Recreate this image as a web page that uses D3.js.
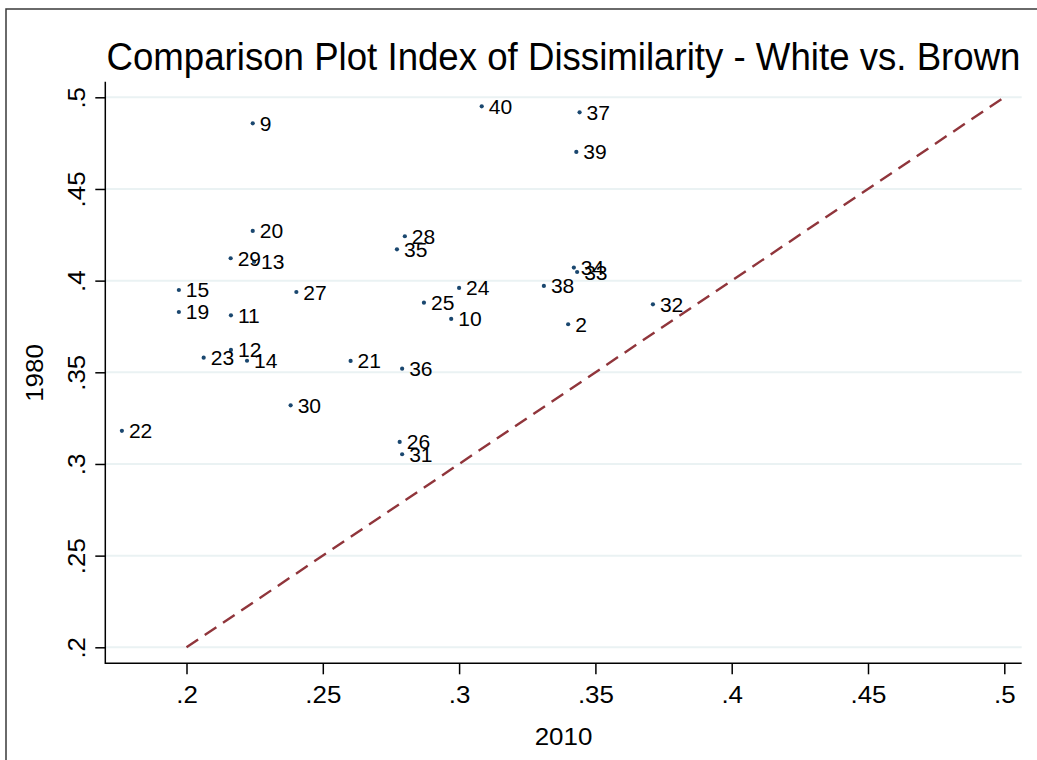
<!DOCTYPE html>
<html>
<head>
<meta charset="utf-8">
<script src="https://cdn.jsdelivr.net/npm/d3@7"></script>
<style>
  body { margin: 0; background: #fff; }
  svg { display: block; font-family: "Liberation Sans", Arial, sans-serif; }
</style>
</head>
<body>
<svg id="chart" width="1037" height="760"></svg>
<script>
// Area ids
const aIds = [2, 9, 10, 11, 12, 13, 14, 15, 19, 20, 21, 22, 23, 24, 25,
  26, 27, 28, 29, 30, 31, 32, 33, 34, 35, 36, 37, 38, 39, 40];
// Index of dissimilarity in 2010 (x)
const a2010 = [0.340, 0.2243, 0.2971, 0.2163, 0.2163, 0.2248, 0.2222, 0.1972, 0.1972, 0.2243, 0.2602, 0.1763, 0.2063, 0.3000, 0.2871,
  0.2782, 0.2403, 0.2801, 0.2162, 0.2382, 0.2791, 0.3711, 0.3433, 0.3421, 0.2772, 0.2791, 0.3442, 0.3311, 0.3430, 0.3083];
// Index of dissimilarity in 1980 (y)
const a1980 = [0.3762, 0.4858, 0.3791, 0.3811, 0.3622, 0.4103, 0.3563, 0.3949, 0.3829, 0.4271, 0.3562, 0.3181, 0.3580, 0.3960, 0.3880,
  0.3120, 0.3938, 0.4242, 0.4122, 0.3320, 0.3053, 0.3871, 0.4047, 0.4071, 0.4171, 0.3520, 0.4918, 0.3971, 0.4702, 0.4951];
const aTicks = [0.2, 0.25, 0.3, 0.35, 0.4, 0.45, 0.5];
const aDiagonal = [0.2, 0.5];

const oSvg = d3.select('#chart');
const jPad = { l: 105.3, r: 1021.7, t: 81.7, b: 663.3 };
// Stata's Helvetica is a touch wider than Liberation Sans
const iStretch = 1.08;

// Scales
const oX = d3.scaleLinear().domain([0.2, 0.5]).range([186.5, 1004.3]);
const oY = d3.scaleLinear().domain([0.2, 0.5]).range([647.3, 97.3]);
const fnFmt = v => d3.format('.2~f')(v).replace(/^0/, '');

// Outer frame (only top and left edges are visible)
oSvg.append('path')
  .attr('d', 'M6,770 L6,9 L1045,9')
  .attr('fill', 'none')
  .attr('stroke', '#3a3a3a')
  .attr('stroke-width', 1.5);

// Title
oSvg.append('text')
  .attr('x', (jPad.l + jPad.r) / 2)
  .attr('y', 70)
  .attr('text-anchor', 'middle')
  .attr('font-size', 38)
  .attr('fill', '#000')
  .attr('textLength', 914)
  .attr('lengthAdjust', 'spacingAndGlyphs')
  .text('Comparison Plot Index of Dissimilarity - White vs. Brown');

// Horizontal grid lines
oSvg.append('g').selectAll('line')
  .data(aTicks)
  .enter()
  .append('line')
  .attr('x1', jPad.l)
  .attr('x2', jPad.r)
  .attr('y1', d => oY(d))
  .attr('y2', d => oY(d))
  .attr('stroke', '#eaf2f3')
  .attr('stroke-width', 2);

// Axes
const oYAxis = oSvg.append('g')
  .attr('transform', `translate(${jPad.l},0)`)
  .call(d3.axisLeft(oY).tickValues(aTicks).tickSize(10).tickFormat(fnFmt));
const oXAxis = oSvg.append('g')
  .attr('transform', `translate(0,${jPad.b})`)
  .call(d3.axisBottom(oX).tickValues(aTicks).tickSize(11).tickFormat(fnFmt));

[oYAxis, oXAxis].forEach((oAxis) => {
  oAxis.attr('font-family', null).attr('font-size', null);
  oAxis.select('.domain').remove();
  oAxis.selectAll('line').attr('stroke', '#000').attr('stroke-width', 1.5);
  oAxis.selectAll('text').attr('font-size', 24).attr('fill', '#000');
});

// Axis lines span the whole plot region
oSvg.append('line')
  .attr('x1', jPad.l).attr('x2', jPad.l)
  .attr('y1', jPad.t).attr('y2', jPad.b + 0.75)
  .attr('stroke', '#000').attr('stroke-width', 1.5);
oSvg.append('line')
  .attr('x1', jPad.l).attr('x2', jPad.r)
  .attr('y1', jPad.b).attr('y2', jPad.b)
  .attr('stroke', '#000').attr('stroke-width', 1.5);

// Y tick labels are rotated like Stata does it
oYAxis.selectAll('.tick text')
  .attr('x', null).attr('dy', null)
  .attr('text-anchor', 'middle')
  .attr('transform', `translate(-20,0) rotate(-90) scale(${iStretch},1)`);
oXAxis.selectAll('.tick text')
  .attr('dy', null)
  .attr('y', null)
  .attr('transform', `translate(0,40) scale(${iStretch},1)`);

// Axis titles
oSvg.append('text')
  .attr('transform', `translate(43,373) rotate(-90) scale(${iStretch},1)`)
  .attr('text-anchor', 'middle')
  .attr('font-size', 24)
  .text('1980');
oSvg.append('text')
  .attr('transform', `translate(${(jPad.l + jPad.r) / 2},745) scale(${iStretch},1)`)
  .attr('text-anchor', 'middle')
  .attr('font-size', 24)
  .text('2010');

// 45 degree reference line
oSvg.append('line')
  .attr('x1', oX(aDiagonal[0])).attr('y1', oY(aDiagonal[0]))
  .attr('x2', oX(aDiagonal[1])).attr('y2', oY(aDiagonal[1]))
  .attr('stroke', '#90353b')
  .attr('stroke-width', 2.4)
  .attr('stroke-dasharray', '14,8');

// Points with their labels
const aPoints = aIds.map((id, i) => ({ id, x: a2010[i], y: a1980[i] }));
const oPointsG = oSvg.append('g');
oPointsG.selectAll('circle')
  .data(aPoints)
  .enter()
  .append('circle')
  .attr('cx', d => oX(d.x))
  .attr('cy', d => oY(d.y))
  .attr('r', 2.1)
  .attr('fill', '#1a476f');
oPointsG.selectAll('text')
  .data(aPoints)
  .enter()
  .append('text')
  .attr('transform', d => `translate(${oX(d.x) + 7},${oY(d.y) + 7.5}) scale(${iStretch},1)`)
  .attr('font-size', 19.5)
  .attr('fill', '#000')
  .text(d => d.id);
</script>
</body>
</html>
